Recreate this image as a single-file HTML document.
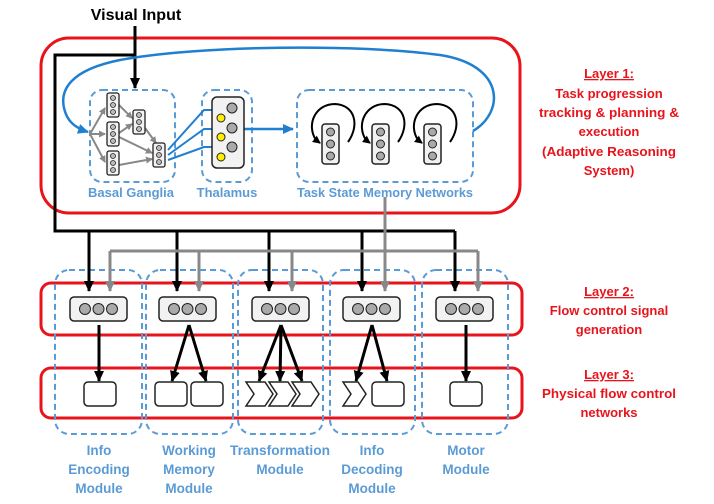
<!DOCTYPE html>
<html><head><style>body{margin:0;background:#fff}svg{display:block}
.t{font-family:"Liberation Sans",sans-serif;font-weight:bold}</style></head><body>
<svg width="714" height="504" viewBox="0 0 714 504" xmlns="http://www.w3.org/2000/svg">
<defs>
<marker id="ak" markerWidth="12" markerHeight="12" refX="10" refY="6" orient="auto" markerUnits="userSpaceOnUse"><path d="M0,1 L11,6 L0,11 z" fill="#000"/></marker>
<marker id="ag" markerWidth="12" markerHeight="12" refX="10" refY="6" orient="auto" markerUnits="userSpaceOnUse"><path d="M0,1 L11,6 L0,11 z" fill="#888"/></marker>
<marker id="ab" markerWidth="12" markerHeight="12" refX="10" refY="6" orient="auto" markerUnits="userSpaceOnUse"><path d="M0,1 L11,6 L0,11 z" fill="#1f7fd0"/></marker>
<marker id="ag2" markerWidth="7" markerHeight="7" refX="6" refY="3.5" orient="auto" markerUnits="userSpaceOnUse"><path d="M0,0 L7,3.5 L0,7 z" fill="#888"/></marker>
<marker id="ak2" markerWidth="8" markerHeight="8" refX="7" refY="4" orient="auto" markerUnits="userSpaceOnUse"><path d="M0,0 L8,4 L0,8 z" fill="#000"/></marker>
</defs>
<rect x="41" y="38" width="479" height="175" rx="28" fill="none" stroke="#e8141c" stroke-width="3"/>
<rect x="41" y="283" width="481" height="52" rx="10" fill="none" stroke="#e8141c" stroke-width="3"/>
<rect x="41" y="368" width="481" height="50" rx="10" fill="none" stroke="#e8141c" stroke-width="3"/>
<g fill="none" stroke="#5b9bd5" stroke-width="2" stroke-dasharray="6,4">
<rect x="55" y="270" width="87" height="164" rx="14"/>
<rect x="146" y="270" width="87" height="164" rx="14"/>
<rect x="238" y="270" width="85" height="164" rx="14"/>
<rect x="330" y="270" width="85" height="164" rx="14"/>
<rect x="422" y="270" width="86" height="164" rx="14"/>
<rect x="90" y="90" width="85" height="92" rx="12"/>
<rect x="202" y="90" width="50" height="92" rx="12"/>
<rect x="297" y="90" width="176" height="92" rx="12"/>
</g>
<text class="t" x="136" y="20" font-size="16" text-anchor="middle">Visual Input</text>
<path d="M135,26 V88" stroke="#000" stroke-width="3" fill="none" marker-end="url(#ak)"/>
<path d="M135,55 H55 V231 H455" stroke="#000" stroke-width="3" fill="none"/>
<g stroke="#000" stroke-width="3" marker-end="url(#ak)">
<path d="M89,231 V291"/><path d="M177,231 V291"/><path d="M269,231 V291"/><path d="M362,231 V291"/><path d="M455,231 V291"/>
</g>
<path d="M110,251 H478" stroke="#888" stroke-width="3" fill="none"/>
<g stroke="#888" stroke-width="3" marker-end="url(#ag)" fill="none">
<path d="M110,251 V291"/><path d="M199,251 V291"/><path d="M292,251 V291"/><path d="M385,197 V291"/><path d="M478,251 V291"/>
</g>
<path d="M473,131 C505,112 505,65 440,55 C360,44 200,45 120,60 C70,70 60,90 64,108 C67,122 76,128 88,132" stroke="#1f7fd0" stroke-width="2.5" fill="none" marker-end="url(#ab)"/>
<path d="M244,129 H293" stroke="#1f7fd0" stroke-width="2.5" fill="none" marker-end="url(#ab)"/>
<g stroke="#1f7fd0" stroke-width="2" fill="none">
<path d="M168,150 L204,110 H226"/><path d="M168,155 L204,129 H226"/><path d="M168,160 L204,147 H226"/>
</g>
<g stroke="#888" stroke-width="2" fill="none" marker-end="url(#ag2)">
<path d="M90,134 L105,108"/><path d="M90,134 L105,134"/><path d="M90,134 L105,162"/>
<path d="M119,105 L132,118"/><path d="M119,133 L132,124"/><path d="M119,137 L152,153"/><path d="M119,165 L152,159"/><path d="M145,128 L156,143"/>
</g>
<g fill="#f2f2f2" stroke="#222" stroke-width="1.3">
<rect x="107" y="93" width="12" height="24" rx="2"/><rect x="107" y="122" width="12" height="24" rx="2"/><rect x="107" y="151" width="12" height="24" rx="2"/>
<rect x="133" y="110" width="12" height="24" rx="2"/><rect x="153" y="143" width="12" height="24" rx="2"/>
</g>
<g fill="#bbb" stroke="#222" stroke-width="0.8">
<circle cx="113" cy="98" r="2.5"/><circle cx="113" cy="105" r="2.5"/><circle cx="113" cy="112" r="2.5"/>
<circle cx="113" cy="127" r="2.5"/><circle cx="113" cy="134" r="2.5"/><circle cx="113" cy="141" r="2.5"/>
<circle cx="113" cy="156" r="2.5"/><circle cx="113" cy="163" r="2.5"/><circle cx="113" cy="170" r="2.5"/>
<circle cx="139" cy="115" r="2.5"/><circle cx="139" cy="122" r="2.5"/><circle cx="139" cy="129" r="2.5"/>
<circle cx="159" cy="148" r="2.5"/><circle cx="159" cy="155" r="2.5"/><circle cx="159" cy="162" r="2.5"/>
</g>
<rect x="212" y="97" width="32" height="71" rx="5" fill="#f2f2f2" stroke="#222" stroke-width="1.5"/>
<g fill="#aaa" stroke="#222"><circle cx="232" cy="108" r="5"/><circle cx="232" cy="128" r="5"/><circle cx="232" cy="147" r="5"/></g>
<g fill="#ffee00" stroke="#222"><circle cx="221" cy="118" r="4"/><circle cx="221" cy="137" r="4"/><circle cx="221" cy="157" r="4"/></g>
<g fill="none" stroke="#000" stroke-width="2" marker-end="url(#ak2)">
<path d="M348,142 C360,125 355,105 335,104 C315,104 306,125 316,140 L320,143"/>
<path d="M398,142 C410,125 405,105 385,104 C365,104 356,125 366,140 L370,143"/>
<path d="M450,142 C462,125 457,105 437,104 C417,104 408,125 418,140 L422,143"/>
</g>
<g fill="#f2f2f2" stroke="#222" stroke-width="1.5">
<rect x="322" y="124" width="17" height="40" rx="3"/><rect x="372" y="124" width="17" height="40" rx="3"/><rect x="424" y="124" width="17" height="40" rx="3"/>
</g>
<g fill="#aaa" stroke="#222">
<circle cx="330.5" cy="132" r="4"/><circle cx="330.5" cy="144" r="4"/><circle cx="330.5" cy="156" r="4"/>
<circle cx="380.5" cy="132" r="4"/><circle cx="380.5" cy="144" r="4"/><circle cx="380.5" cy="156" r="4"/>
<circle cx="432.5" cy="132" r="4"/><circle cx="432.5" cy="144" r="4"/><circle cx="432.5" cy="156" r="4"/>
</g>
<g class="t" fill="#5b9bd5" font-size="13" text-anchor="middle">
<text x="131" y="197" textLength="86" lengthAdjust="spacingAndGlyphs">Basal Ganglia</text><text x="227" y="197">Thalamus</text><text x="385" y="197" textLength="176" lengthAdjust="spacingAndGlyphs">Task State Memory Networks</text>
</g>
<g fill="#f2f2f2" stroke="#222" stroke-width="1.5">
<rect x="70" y="297" width="57" height="24" rx="4"/><rect x="159" y="297" width="57" height="24" rx="4"/><rect x="252" y="297" width="57" height="24" rx="4"/><rect x="343" y="297" width="57" height="24" rx="4"/><rect x="436" y="297" width="57" height="24" rx="4"/>
</g>
<g fill="#aaa" stroke="#222">
<circle cx="85" cy="309" r="5.5"/><circle cx="98.5" cy="309" r="5.5"/><circle cx="112" cy="309" r="5.5"/>
<circle cx="174" cy="309" r="5.5"/><circle cx="187.5" cy="309" r="5.5"/><circle cx="201" cy="309" r="5.5"/>
<circle cx="267" cy="309" r="5.5"/><circle cx="280.5" cy="309" r="5.5"/><circle cx="294" cy="309" r="5.5"/>
<circle cx="358" cy="309" r="5.5"/><circle cx="371.5" cy="309" r="5.5"/><circle cx="385" cy="309" r="5.5"/>
<circle cx="451" cy="309" r="5.5"/><circle cx="464.5" cy="309" r="5.5"/><circle cx="478" cy="309" r="5.5"/>
</g>
<g stroke="#000" stroke-width="3" marker-end="url(#ak)">
<path d="M99,325 V381"/><path d="M189,325 L172,381"/><path d="M189,325 L206,381"/>
<path d="M281,325 L259,381"/><path d="M281,325 L280,381"/><path d="M281,325 L302,381"/>
<path d="M372,325 L356,381"/><path d="M372,325 L387,381"/><path d="M466,325 V381"/>
</g>
<g fill="#fff" stroke="#222" stroke-width="1.5">
<rect x="84" y="382" width="32" height="24" rx="4"/>
<rect x="155" y="382" width="32" height="24" rx="4"/><rect x="191" y="382" width="32" height="24" rx="4"/>
<path d="M246,382 H265 L273,394 L265,406 H246 L254,394 Z"/>
<path d="M269,382 H288 L296,394 L288,406 H269 L277,394 Z"/>
<path d="M292,382 H311 L319,394 L311,406 H292 L300,394 Z"/>
<path d="M343,382 H358 L366,394 L358,406 H343 L351,394 Z"/>
<rect x="372" y="382" width="32" height="24" rx="4"/>
<rect x="450" y="382" width="32" height="24" rx="4"/>
</g>
<g class="t" fill="#5b9bd5" font-size="13.5" text-anchor="middle">
<text x="99" y="455">Info</text><text x="99" y="474">Encoding</text><text x="99" y="493">Module</text>
<text x="189" y="455">Working</text><text x="189" y="474">Memory</text><text x="189" y="493">Module</text>
<text x="280" y="455" textLength="100" lengthAdjust="spacingAndGlyphs">Transformation</text><text x="280" y="474">Module</text>
<text x="372" y="455">Info</text><text x="372" y="474">Decoding</text><text x="372" y="493">Module</text>
<text x="466" y="455">Motor</text><text x="466" y="474">Module</text>
</g>
<g class="t" fill="#e8141c" font-size="13" text-anchor="middle">
<text x="609" y="78" text-decoration="underline">Layer 1:</text>
<text x="609" y="98">Task progression</text>
<text x="609" y="117" textLength="140" lengthAdjust="spacingAndGlyphs">tracking &amp; planning &amp;</text>
<text x="609" y="136">execution</text>
<text x="609" y="156" textLength="134" lengthAdjust="spacingAndGlyphs">(Adaptive Reasoning</text>
<text x="609" y="175">System)</text>
<text x="609" y="296" text-decoration="underline">Layer 2:</text>
<text x="609" y="315">Flow control signal</text>
<text x="609" y="334">generation</text>
<text x="609" y="379" text-decoration="underline">Layer 3:</text>
<text x="609" y="398" textLength="134" lengthAdjust="spacingAndGlyphs">Physical flow control</text>
<text x="609" y="417">networks</text>
</g>
</svg>
</body></html>
